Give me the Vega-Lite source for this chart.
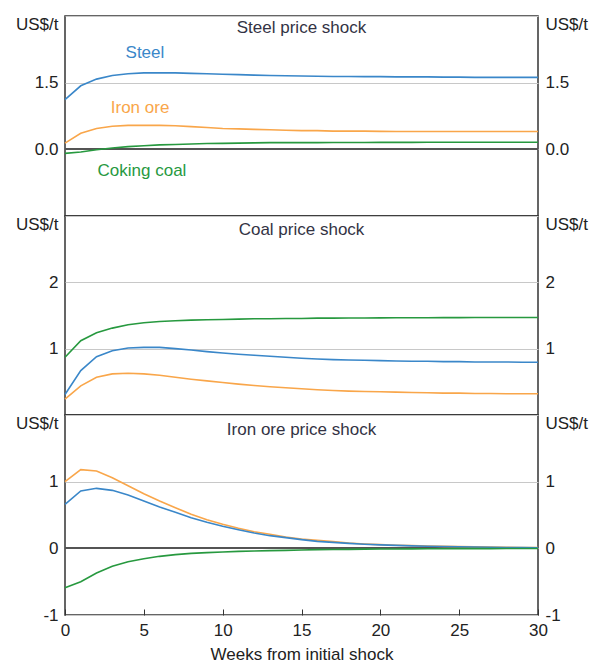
{
  "$schema": "https://vega.github.io/schema/vega-lite/v6.json",
  "background": "white",
  "padding": {"left": 14, "top": 14, "right": 0, "bottom": 0},
  "spacing": 0,
  "bounds": "flush",
  "config": {
    "font": "Liberation Sans",
    "view": {"stroke": "#333333", "strokeWidth": 1.5},
    "axis": {"labelFont": "Liberation Sans", "labelFontSize": 17, "labelColor": "#222222", "domain": false, "ticks": false, "grid": false, "title": null, "gridColor": "#c8c8c8", "gridWidth": 1},
    "text": {"font": "Liberation Sans", "fontSize": 17},
    "line": {"strokeWidth": 1.6, "interpolate": "linear"}
  },
  "datasets": {
    "irf": [
      {"w":0,"ss_steel":1.12,"ss_iron":0.14,"ss_coal":-0.09,"cs_steel":0.31,"cs_iron":0.24,"cs_coal":0.87,"is_steel":0.66,"is_iron":1.0,"is_coal":-0.59},
      {"w":1,"ss_steel":1.43,"ss_iron":0.36,"ss_coal":-0.06,"cs_steel":0.67,"cs_iron":0.44,"cs_coal":1.12,"is_steel":0.86,"is_iron":1.18,"is_coal":-0.50},
      {"w":2,"ss_steel":1.58,"ss_iron":0.47,"ss_coal":-0.01,"cs_steel":0.88,"cs_iron":0.57,"cs_coal":1.24,"is_steel":0.90,"is_iron":1.16,"is_coal":-0.37},
      {"w":3,"ss_steel":1.66,"ss_iron":0.52,"ss_coal":0.03,"cs_steel":0.97,"cs_iron":0.62,"cs_coal":1.31,"is_steel":0.87,"is_iron":1.06,"is_coal":-0.27},
      {"w":4,"ss_steel":1.70,"ss_iron":0.54,"ss_coal":0.06,"cs_steel":1.01,"cs_iron":0.63,"cs_coal":1.36,"is_steel":0.80,"is_iron":0.94,"is_coal":-0.20},
      {"w":5,"ss_steel":1.72,"ss_iron":0.54,"ss_coal":0.08,"cs_steel":1.02,"cs_iron":0.62,"cs_coal":1.39,"is_steel":0.71,"is_iron":0.82,"is_coal":-0.155},
      {"w":6,"ss_steel":1.72,"ss_iron":0.54,"ss_coal":0.10,"cs_steel":1.02,"cs_iron":0.60,"cs_coal":1.41,"is_steel":0.62,"is_iron":0.71,"is_coal":-0.12},
      {"w":7,"ss_steel":1.72,"ss_iron":0.53,"ss_coal":0.11,"cs_steel":1.00,"cs_iron":0.57,"cs_coal":1.42,"is_steel":0.54,"is_iron":0.61,"is_coal":-0.095},
      {"w":8,"ss_steel":1.71,"ss_iron":0.51,"ss_coal":0.12,"cs_steel":0.98,"cs_iron":0.54,"cs_coal":1.43,"is_steel":0.46,"is_iron":0.51,"is_coal":-0.075},
      {"w":9,"ss_steel":1.70,"ss_iron":0.49,"ss_coal":0.13,"cs_steel":0.955,"cs_iron":0.515,"cs_coal":1.435,"is_steel":0.39,"is_iron":0.43,"is_coal":-0.065},
      {"w":10,"ss_steel":1.69,"ss_iron":0.47,"ss_coal":0.135,"cs_steel":0.935,"cs_iron":0.49,"cs_coal":1.44,"is_steel":0.33,"is_iron":0.36,"is_coal":-0.055},
      {"w":11,"ss_steel":1.68,"ss_iron":0.46,"ss_coal":0.14,"cs_steel":0.915,"cs_iron":0.465,"cs_coal":1.445,"is_steel":0.28,"is_iron":0.30,"is_coal":-0.045},
      {"w":12,"ss_steel":1.67,"ss_iron":0.45,"ss_coal":0.145,"cs_steel":0.90,"cs_iron":0.445,"cs_coal":1.45,"is_steel":0.23,"is_iron":0.25,"is_coal":-0.04},
      {"w":13,"ss_steel":1.66,"ss_iron":0.44,"ss_coal":0.15,"cs_steel":0.885,"cs_iron":0.425,"cs_coal":1.45,"is_steel":0.19,"is_iron":0.21,"is_coal":-0.035},
      {"w":14,"ss_steel":1.655,"ss_iron":0.43,"ss_coal":0.15,"cs_steel":0.87,"cs_iron":0.41,"cs_coal":1.455,"is_steel":0.16,"is_iron":0.17,"is_coal":-0.03},
      {"w":15,"ss_steel":1.65,"ss_iron":0.42,"ss_coal":0.15,"cs_steel":0.855,"cs_iron":0.395,"cs_coal":1.455,"is_steel":0.13,"is_iron":0.14,"is_coal":-0.025},
      {"w":16,"ss_steel":1.645,"ss_iron":0.42,"ss_coal":0.152,"cs_steel":0.845,"cs_iron":0.38,"cs_coal":1.46,"is_steel":0.105,"is_iron":0.12,"is_coal":-0.02},
      {"w":17,"ss_steel":1.64,"ss_iron":0.41,"ss_coal":0.154,"cs_steel":0.835,"cs_iron":0.37,"cs_coal":1.46,"is_steel":0.09,"is_iron":0.10,"is_coal":-0.018},
      {"w":18,"ss_steel":1.64,"ss_iron":0.41,"ss_coal":0.155,"cs_steel":0.83,"cs_iron":0.36,"cs_coal":1.462,"is_steel":0.075,"is_iron":0.08,"is_coal":-0.015},
      {"w":19,"ss_steel":1.635,"ss_iron":0.41,"ss_coal":0.155,"cs_steel":0.825,"cs_iron":0.355,"cs_coal":1.463,"is_steel":0.062,"is_iron":0.066,"is_coal":-0.012},
      {"w":20,"ss_steel":1.635,"ss_iron":0.405,"ss_coal":0.156,"cs_steel":0.82,"cs_iron":0.35,"cs_coal":1.464,"is_steel":0.052,"is_iron":0.056,"is_coal":-0.01},
      {"w":21,"ss_steel":1.63,"ss_iron":0.40,"ss_coal":0.157,"cs_steel":0.815,"cs_iron":0.345,"cs_coal":1.465,"is_steel":0.044,"is_iron":0.047,"is_coal":-0.009},
      {"w":22,"ss_steel":1.63,"ss_iron":0.40,"ss_coal":0.157,"cs_steel":0.81,"cs_iron":0.34,"cs_coal":1.466,"is_steel":0.037,"is_iron":0.04,"is_coal":-0.008},
      {"w":23,"ss_steel":1.63,"ss_iron":0.40,"ss_coal":0.158,"cs_steel":0.81,"cs_iron":0.335,"cs_coal":1.467,"is_steel":0.032,"is_iron":0.035,"is_coal":-0.007},
      {"w":24,"ss_steel":1.625,"ss_iron":0.40,"ss_coal":0.158,"cs_steel":0.805,"cs_iron":0.33,"cs_coal":1.468,"is_steel":0.027,"is_iron":0.03,"is_coal":-0.006},
      {"w":25,"ss_steel":1.625,"ss_iron":0.40,"ss_coal":0.159,"cs_steel":0.805,"cs_iron":0.33,"cs_coal":1.468,"is_steel":0.023,"is_iron":0.026,"is_coal":-0.005},
      {"w":26,"ss_steel":1.62,"ss_iron":0.40,"ss_coal":0.159,"cs_steel":0.80,"cs_iron":0.325,"cs_coal":1.469,"is_steel":0.019,"is_iron":0.022,"is_coal":-0.004},
      {"w":27,"ss_steel":1.62,"ss_iron":0.40,"ss_coal":0.16,"cs_steel":0.80,"cs_iron":0.325,"cs_coal":1.469,"is_steel":0.016,"is_iron":0.018,"is_coal":-0.004},
      {"w":28,"ss_steel":1.62,"ss_iron":0.40,"ss_coal":0.16,"cs_steel":0.80,"cs_iron":0.32,"cs_coal":1.47,"is_steel":0.013,"is_iron":0.015,"is_coal":-0.003},
      {"w":29,"ss_steel":1.62,"ss_iron":0.40,"ss_coal":0.16,"cs_steel":0.795,"cs_iron":0.32,"cs_coal":1.47,"is_steel":0.011,"is_iron":0.012,"is_coal":-0.003},
      {"w":30,"ss_steel":1.62,"ss_iron":0.40,"ss_coal":0.16,"cs_steel":0.795,"cs_iron":0.32,"cs_coal":1.47,"is_steel":0.009,"is_iron":0.01,"is_coal":-0.003}
    ],
    "one": [{}]
  },
  "vconcat": [
    {
      "width": 473, "height": 200,
      "data": {"name": "irf"},
      "layer": [
        {"mark": {"type": "rule", "color": "#555555", "strokeWidth": 1.5},
         "encoding": {"y": {"datum": 0, "type": "quantitative", "scale": {"domain": [-1.5, 3], "nice": false},
           "axis": {"orient": "right", "values": [0, 1.5, 3], "grid": false, "labelPadding": 7,
             "labelExpr": "datum.value == 3 ? 'US$/t' : format(datum.value, '.1f')",
             "labelBaseline": {"condition": {"test": "datum.value == 3", "value": "top"}, "value": "middle"}}}}},
        {"mark": {"type": "line", "color": "#3a87c9"},
         "encoding": {"x": {"field": "w", "type": "quantitative", "scale": {"domain": [0, 30], "nice": false}, "axis": null},
           "y": {"field": "ss_steel", "type": "quantitative",
             "axis": {"orient": "left", "values": [0, 1.5, 3], "grid": true, "labelPadding": 7,
               "labelExpr": "datum.value == 3 ? 'US$/t' : format(datum.value, '.1f')",
               "labelBaseline": {"condition": {"test": "datum.value == 3", "value": "top"}, "value": "middle"}}}}},
        {"mark": {"type": "line", "color": "#f9a64a"},
         "encoding": {"x": {"field": "w", "type": "quantitative", "axis": null}, "y": {"field": "ss_iron", "type": "quantitative", "axis": null}}},
        {"mark": {"type": "line", "color": "#27993f"},
         "encoding": {"x": {"field": "w", "type": "quantitative", "axis": null}, "y": {"field": "ss_coal", "type": "quantitative", "axis": null}}},
        {"data": {"name": "one"}, "mark": {"type": "text", "color": "#333344", "baseline": "middle"},
         "encoding": {"x": {"datum": 15, "type": "quantitative", "axis": null}, "y": {"datum": 2.73, "type": "quantitative", "axis": null}, "text": {"value": "Steel price shock"}}},
        {"data": {"name": "one"}, "mark": {"type": "text", "color": "#3a87c9", "baseline": "middle"},
         "encoding": {"x": {"datum": 5.07, "type": "quantitative", "axis": null}, "y": {"datum": 2.16, "type": "quantitative", "axis": null}, "text": {"value": "Steel"}}},
        {"data": {"name": "one"}, "mark": {"type": "text", "color": "#f9a64a", "baseline": "middle"},
         "encoding": {"x": {"datum": 4.76, "type": "quantitative", "axis": null}, "y": {"datum": 0.93, "type": "quantitative", "axis": null}, "text": {"value": "Iron ore"}}},
        {"data": {"name": "one"}, "mark": {"type": "text", "color": "#27993f", "baseline": "middle"},
         "encoding": {"x": {"datum": 4.88, "type": "quantitative", "axis": null}, "y": {"datum": -0.48, "type": "quantitative", "axis": null}, "text": {"value": "Coking coal"}}}
      ]
    },
    {
      "width": 473, "height": 199,
      "data": {"name": "irf"},
      "layer": [
        {"mark": {"type": "rule", "color": "#555555", "strokeWidth": 1.5},
         "encoding": {"y": {"datum": 0, "type": "quantitative", "scale": {"domain": [0, 3], "nice": false},
           "axis": {"orient": "right", "values": [0, 1, 2, 3], "grid": false, "labelPadding": 7,
             "labelExpr": "datum.value == 3 ? 'US$/t' : datum.value == 0 ? '' : '' + datum.value",
             "labelBaseline": {"condition": {"test": "datum.value == 3", "value": "top"}, "value": "middle"}}}}},
        {"mark": {"type": "line", "color": "#27993f"},
         "encoding": {"x": {"field": "w", "type": "quantitative", "scale": {"domain": [0, 30], "nice": false}, "axis": null},
           "y": {"field": "cs_coal", "type": "quantitative",
             "axis": {"orient": "left", "values": [0, 1, 2, 3], "grid": true, "labelPadding": 7,
               "labelExpr": "datum.value == 3 ? 'US$/t' : datum.value == 0 ? '' : '' + datum.value",
               "labelBaseline": {"condition": {"test": "datum.value == 3", "value": "top"}, "value": "middle"}}}}},
        {"mark": {"type": "line", "color": "#3a87c9"},
         "encoding": {"x": {"field": "w", "type": "quantitative", "axis": null}, "y": {"field": "cs_steel", "type": "quantitative", "axis": null}}},
        {"mark": {"type": "line", "color": "#f9a64a"},
         "encoding": {"x": {"field": "w", "type": "quantitative", "axis": null}, "y": {"field": "cs_iron", "type": "quantitative", "axis": null}}},
        {"data": {"name": "one"}, "mark": {"type": "text", "color": "#333344", "baseline": "middle"},
         "encoding": {"x": {"datum": 15, "type": "quantitative", "axis": null}, "y": {"datum": 2.79, "type": "quantitative", "axis": null}, "text": {"value": "Coal price shock"}}}
      ]
    },
    {
      "width": 473, "height": 200,
      "data": {"name": "irf"},
      "layer": [
        {"mark": {"type": "rule", "color": "#555555", "strokeWidth": 1.5},
         "encoding": {"y": {"datum": 0, "type": "quantitative", "scale": {"domain": [-1, 2], "nice": false},
           "axis": {"orient": "right", "values": [-1, 0, 1, 2], "grid": false, "labelPadding": 7,
             "labelExpr": "datum.value == 2 ? 'US$/t' : '' + datum.value",
             "labelBaseline": {"condition": {"test": "datum.value == 2", "value": "top"}, "value": "middle"}}}}},
        {"mark": {"type": "line", "color": "#f9a64a"},
         "encoding": {"x": {"field": "w", "type": "quantitative", "scale": {"domain": [0, 30], "nice": false},
             "axis": {"values": [0, 5, 10, 15, 20, 25, 30], "ticks": true, "tickSize": -6, "tickColor": "#333333", "tickWidth": 1, "labelPadding": 13, "labelFlush": false, "title": "Weeks from initial shock", "titleFont": "Liberation Sans", "titleFontSize": 17, "titleFontWeight": "normal", "titleColor": "#222222", "titlePadding": 8}},
           "y": {"field": "is_iron", "type": "quantitative",
             "axis": {"orient": "left", "values": [-1, 0, 1, 2], "grid": true, "labelPadding": 7,
               "labelExpr": "datum.value == 2 ? 'US$/t' : '' + datum.value",
               "labelBaseline": {"condition": {"test": "datum.value == 2", "value": "top"}, "value": "middle"}}}}},
        {"mark": {"type": "line", "color": "#3a87c9"},
         "encoding": {"x": {"field": "w", "type": "quantitative"}, "y": {"field": "is_steel", "type": "quantitative", "axis": null}}},
        {"mark": {"type": "line", "color": "#27993f"},
         "encoding": {"x": {"field": "w", "type": "quantitative"}, "y": {"field": "is_coal", "type": "quantitative", "axis": null}}},
        {"data": {"name": "one"}, "mark": {"type": "text", "color": "#333344", "baseline": "middle"},
         "encoding": {"x": {"datum": 15, "type": "quantitative"}, "y": {"datum": 1.78, "type": "quantitative", "axis": null}, "text": {"value": "Iron ore price shock"}}}
      ]
    }
  ]
}
